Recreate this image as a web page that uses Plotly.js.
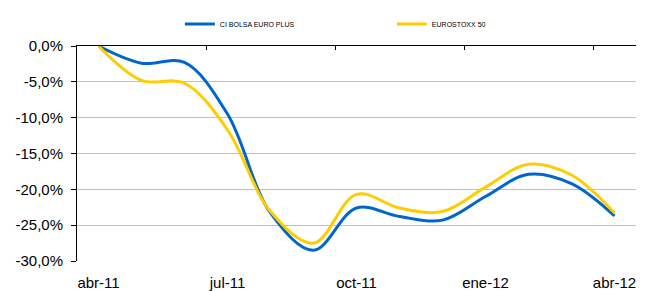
<!DOCTYPE html>
<html>
<head>
<meta charset="utf-8">
<script src="https://cdn.plot.ly/plotly-3.0.1.min.js"></script>
<style>
  html, body { margin: 0; padding: 0; background: #fff; }
  #chart { width: 650px; height: 291px; }
</style>
</head>
<body>
<div id="chart"></div>
<script>
const months = ['abr-11','may-11','jun-11','jul-11','ago-11','sep-11','oct-11','nov-11','dic-11','ene-12','feb-12','mar-12','abr-12'];
const ciBolsa = [0, -2.4, -2.3, -9.5, -23.3, -28.5, -22.6, -23.8, -24.3, -21.0, -17.9, -19.2, -23.7];
const eurostoxx = [0, -4.8, -5.2, -11.7, -23.1, -27.5, -20.7, -22.6, -23.1, -19.7, -16.5, -18.0, -23.3];
const seriesNames = ['CI BOLSA EURO PLUS', 'EUROSTOXX 50'];
const xTickVals = ['abr-11','jul-11','oct-11','ene-12','abr-12'];
const yTickVals = [0, -5, -10, -15, -20, -25, -30];
const yTickText = ['0,0%', '-5,0%', '-10,0%', '-15,0%', '-20,0%', '-25,0%', '-30,0%'];

const font = 'Liberation Sans, Arial, sans-serif';

const traces = [
  {
    x: months, y: ciBolsa, name: seriesNames[0], type: 'scatter', mode: 'lines',
    xaxis: 'x', yaxis: 'y',
    line: { color: '#0066cc', width: 3, shape: 'spline', smoothing: 1 },
    hoverinfo: 'skip'
  },
  {
    x: months, y: eurostoxx, name: seriesNames[1], type: 'scatter', mode: 'lines',
    xaxis: 'x2', yaxis: 'y',
    line: { color: '#ffcc00', width: 3, shape: 'spline', smoothing: 1 },
    hoverinfo: 'skip'
  }
];

const layout = {
  width: 650, height: 291,
  margin: { l: 77, r: 14, t: 46, b: 30, pad: 0, autoexpand: false },
  paper_bgcolor: '#fff', plot_bgcolor: '#fff',
  font: { family: font, color: '#000', size: 15 },
  showlegend: true,
  legend: {
    orientation: 'h', x: 0.184, xanchor: 'left', y: 1.102, yanchor: 'middle',
    font: { family: font, size: 7, color: '#000' },
    entrywidth: 167, entrywidthmode: 'pixels',
    bgcolor: 'rgba(0,0,0,0)', borderwidth: 0, tracegroupgap: 0
  },
  xaxis: {
    type: 'category', categoryorder: 'array', categoryarray: months,
    range: [-0.5, 12.5], fixedrange: true,
    tickmode: 'array', tickvals: xTickVals, ticktext: xTickVals,
    ticks: '', showline: false, showgrid: false, zeroline: false,
    tickfont: { family: font, size: 15, color: '#000' },
    ticklabelstandoff: 11
  },
  xaxis2: {
    type: 'category', categoryorder: 'array', categoryarray: months,
    overlaying: 'x', side: 'top', anchor: 'y',
    range: [-0.5, 12.5], fixedrange: true,
    tickmode: 'linear', tick0: 0, dtick: 3, tickson: 'boundaries',
    ticks: 'inside', ticklen: 4, tickcolor: '#000', tickwidth: 1,
    showticklabels: false, showline: true, linecolor: '#000', linewidth: 1,
    showgrid: false, zeroline: false
  },
  yaxis: {
    range: [-30, 0], fixedrange: true,
    tickmode: 'array', tickvals: yTickVals, ticktext: yTickText,
    ticks: 'outside', ticklen: 5, tickcolor: '#000', tickwidth: 1,
    showline: true, linecolor: '#000', linewidth: 1,
    showgrid: true, gridcolor: '#c0c0c0', gridwidth: 1, zeroline: false,
    tickfont: { family: font, size: 15, color: '#000' },
    ticklabelstandoff: 5
  }
};

Plotly.newPlot('chart', traces, layout, { displayModeBar: false, staticPlot: true });
</script>
</body>
</html>
